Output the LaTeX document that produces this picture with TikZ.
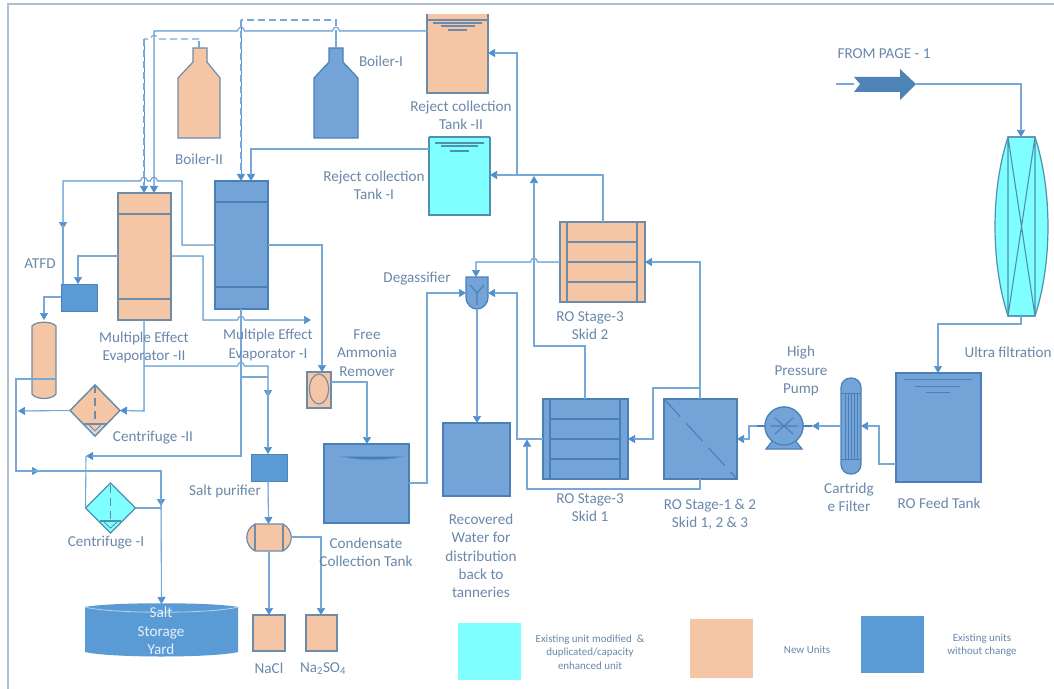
\documentclass[tikz,border=0pt]{standalone}
\usepackage{fontspec}
\setmainfont{Carlito}
\usetikzlibrary{arrows.meta,shapes.geometric}
\definecolor{linec}{HTML}{76A8D8}
\definecolor{tipc}{HTML}{4F8FCB}
\definecolor{peach}{HTML}{F4C6A5}
\definecolor{cyanu}{HTML}{7FFFFF}
\definecolor{blueu}{HTML}{74A3D8}
\definecolor{blued}{HTML}{5B9BD5}
\definecolor{edgeg}{HTML}{6E8CA8}
\definecolor{edgeb}{HTML}{4A80B8}
\definecolor{edgec}{HTML}{4F8FB0}
\definecolor{txtc}{HTML}{6A88AA}
\definecolor{framec}{HTML}{AEBED3}
\tikzset{
  flow/.style={draw=linec,line width=1.1bp},
  arr/.style={draw=tipc,line width=.5bp,-{Triangle[length=7bp,width=8bp]},
     postaction={draw=linec,line width=1.1bp,-,shorten >=6bp}},
  dasharr/.style={draw=tipc,line width=.5bp,-{Triangle[length=7bp,width=8bp]},
     postaction={draw=linec,line width=1.1bp,-,shorten >=6bp,dash pattern=on 7bp off 4bp}},
  dashflow/.style={flow,dash pattern=on 7bp off 4bp},
  pu/.style={draw=edgeg,fill=peach,line width=1.2bp},
  bu/.style={draw=edgeb,fill=blueu,line width=1.2bp},
  cu/.style={draw=edgec,fill=cyanu,line width=1.2bp},
  du/.style={draw=blued!85!black,fill=blued,line width=.8bp},
  pl/.style={draw=edgeg,line width=1.1bp},
  bl/.style={draw=edgeb,line width=1.1bp},
  cl/.style={draw=edgec,line width=1.1bp},
  lbl/.style={text=txtc,align=center,inner sep=0pt,font=\fontsize{15.2}{18.3}\selectfont},
  leg/.style={text=txtc,align=center,inner sep=0pt,font=\fontsize{11}{13.6}\selectfont},
  hidden/.style={draw=none,fill=none}
}
% \unit[style]{name}{x1}{y1}{x2}{y2}
\newcommand{\unit}[6][]{\node[#1,shape=rectangle,inner sep=0pt,outer sep=0pt,
  minimum width={(#5-#3)*1bp},minimum height={(#6-#4)*1bp}] (#2) at ({(#3+#5)/2},{(#4+#6)/2}) {};}
% hop going left / right on a horizontal line, over x=#1 at y=#2
\newcommand{\hopL}[2]{-- (#1+3.5,#2) .. controls (#1+3,#2-5) and (#1-3,#2-5) .. (#1-3.5,#2)}
\newcommand{\hopR}[2]{-- (#1-3.5,#2) .. controls (#1-3,#2-5) and (#1+3,#2-5) .. (#1+3.5,#2)}
\begin{document}
\begin{tikzpicture}[x=1bp,y=-1bp]
\useasboundingbox (0,0) rectangle (1054,689);
\fill[white] (0,0) rectangle (1054,689);
\draw[framec,line width=1.1bp] (8,689) -- (8,4) -- (1054,4);

% ---------- units
\unit[hidden]{boilerII}{178}{48}{220}{138}
\draw[pu] (193,48) -- (207,48) -- (207,62) -- (220,78) -- (220,138) -- (178,138) -- (178,78) -- (193,62) -- cycle;
\unit[hidden]{boilerI}{314}{48}{358}{138}
\draw[bu] (329,48) -- (343,48) -- (343,62) -- (358,78) -- (358,138) -- (314,138) -- (314,78) -- (329,62) -- cycle;

\unit[pu,draw=none]{tankII}{427}{14}{488}{93}
\draw[pl,line width=1.3bp] (427,14) -- (427,93) -- (488,93) -- (488,14);
\draw[pl] (427,20) -- (488,20) (433,23) -- (482,23) (441,26) -- (475,26) (448,30) -- (467,30);
\unit[cu,draw=none]{tankI}{429}{137}{490}{215}
\draw[cl,line width=1.3bp] (429,137) -- (429,215) -- (490,215) -- (490,137);
\draw[cl] (429,137) -- (490,137) (435,143) -- (484,143) (441,146) -- (478,146) (450,151) -- (469,151);

\unit[pu]{evapII}{118}{193}{171}{320}
\draw[pl,line width=1.4bp] (118,214) -- (171,214) (118,299) -- (171,299);
\unit[bu]{evapI}{215}{181}{268}{309}
\draw[bl,line width=1.1bp] (215,202) -- (268,202) (215,287) -- (268,287);

\unit[du]{atfd}{61}{284}{97}{311}
\unit[hidden]{dryer}{32}{320}{56}{399}
\draw[pu] (32,326) .. controls (36,321) and (52,321) .. (56,326) -- (56,394) .. controls (52,400) and (36,400) .. (32,394) -- cycle;

\node[pu,shape=diamond,aspect=1,inner sep=0pt,outer sep=0pt,minimum width=50bp,minimum height=51bp] (centII) at (95,410.5) {};
\fill[white!70!edgeg] (85,424) -- (105,424) -- (95,435) -- cycle;
\draw[pl] (84,424) -- (106,424);
\draw[pl,dash pattern=on 8bp off 5bp] (95,385) -- (95,421);
\fill[peach] (89,425) -- (101,425) -- (95,431) -- cycle;
\draw[pl,line width=.8bp] (89,425) -- (95,431) -- (101,425);
\draw[pu,fill=none] (95,385) -- (120,410.5) -- (95,436) -- (70,410.5) -- cycle;

\node[cu,shape=diamond,aspect=1,inner sep=0pt,outer sep=0pt,minimum width=50bp,minimum height=50bp] (centI) at (110.5,508) {};
\draw[cl,dash pattern=on 8bp off 5bp] (110.5,485) -- (110.5,521);
\draw[cl] (100,521) -- (121,521);
\draw[cl,line width=.8bp] (104,522) -- (110.5,528) -- (117,522);

\unit[hidden]{yard}{85}{604}{238}{655}
\fill[blued] (85,607) .. controls (110,602) and (213,602) .. (238,607) -- (238,652) .. controls (213,658) and (110,658) .. (85,652) -- cycle;
\draw[white!55!blued,line width=.8bp] (85,607) .. controls (110,614) and (213,614) .. (238,607);

\unit[du]{purifier}{251}{454}{287}{481}
\unit[hidden]{separator}{247}{524}{291}{551}
\draw[pu] (255,524) -- (283,524) .. controls (294,530) and (294,545) .. (283,551) -- (255,551) .. controls (244,545) and (244,530) .. (255,524) -- cycle;
\draw[pl,line width=1.3bp] (255,524) -- (255,551) (283,524) -- (283,551);

\unit[pu]{nacl}{253}{615}{285}{651}
\unit[pu]{naso}{306}{615}{337}{651}

\unit[pu]{ammonia}{307}{372}{331}{408}
\node[pl,shape=ellipse,inner sep=0pt,minimum width=19bp,minimum height=30bp] (ammoniaE) at (319,389) {};

\unit[bu]{condensate}{324}{444}{409}{523}
\draw[blued,fill=blued!80!black,line width=.6bp] (340,456) .. controls (360,461) and (385,461) .. (405,456) .. controls (385,457) and (360,457) .. (340,456);

\unit[bu]{recovered}{443}{423}{510}{496}

\unit[hidden]{degas}{466}{277}{488}{309}
\draw[bu] (degas.north west) -- (degas.north east) -- (488,297) .. controls (488,305) and (482,309) .. (477,309) .. controls (472,309) and (466,305) .. (466,297) -- cycle;
\draw[bl] (470,285) -- (477,293) -- (484,285) (477,293) -- (477,305);

\unit[pu]{roskidII}{560}{222}{645}{302}
\draw[pl] (567,222) -- (567,302) (637,222) -- (637,302) (567,242) -- (637,242) (567,262) -- (637,262) (567,282) -- (637,282);
\unit[bu]{roskidI}{543}{399}{628}{479}
\draw[bl,line width=1.3bp] (550,399) -- (550,479) (620,399) -- (620,479) (550,419) -- (620,419) (550,439) -- (620,439) (550,459) -- (620,459);
\unit[bu]{roone}{664}{399}{737}{479}
\draw[bl,dash pattern=on 24bp off 9bp] (roone.north west) -- (roone.south east);

\node[bu,shape=circle,inner sep=0pt,minimum size=38bp] (pump) at (784,426) {};
\draw[bu] (766,449) -- (802,449) -- (794,439) -- (774,439) -- cycle;
\node[bu,shape=circle,inner sep=0pt,minimum size=38bp] at (784,426) {};
\draw[bl] (770,426) -- (798,426) (775,418) -- (793,434) (775,434) -- (793,418);
\draw[bl] (757,426) -- (765,426) (803,426) -- (812,426);

\unit[hidden]{cartridge}{841}{378}{861}{474}
\draw[bu,rounded corners=9.5bp] (841,378) rectangle (861,474);
\draw[bl,line width=.8bp] (841,393) -- (861,393) (841,459) -- (861,459) (845,393) -- (845,459) (848.5,393) -- (848.5,459) (851,393) -- (851,459) (854,393) -- (854,459) (857,393) -- (857,459);

\unit[bu]{feed}{896}{373}{981}{482}
\draw[bl,line width=.7bp] (904,379) -- (972,379) (915,386) -- (960,386) (926,392) -- (950,392);

\unit[hidden]{uf}{995}{137}{1048}{316}
\draw[cu] (1008,137) .. controls (990.7,190) and (990.7,263) .. (1008,316) -- (1035,316) .. controls (1052.3,263) and (1052.3,190) .. (1035,137) -- cycle;
\draw[cl] (1008,137) -- (1035,137) -- (1035,316) -- (1008,316) -- cycle (1008,137) -- (1035,316) (1035,137) -- (1008,316);

\coordinate (pageIn) at (836,84);
\unit[hidden]{pagearrow}{854}{69}{916}{100}
\fill[blued!85!black] (854,77) -- (900,77) -- (900,69) -- (916,84) -- (900,100) -- (900,92) -- (854,92) -- (860,84) -- cycle;

% ---------- connectors
\draw[flow] (pageIn) -- (pagearrow.west |- pageIn);
\draw[arr] (pagearrow.east |- pageIn) -- (1021,84) -- (1021,137);
\draw[arr] (1021,316) -- (1021,324) -- (938,324) -- (938,373);
\draw[arr] (feed.west |- 0,464) -- (879,464) -- (879,426) -- (cartridge.east |- 0,426);
\draw[arr] (cartridge.west |- 0,426) -- (812,426);
\draw[arr] (757,426) -- (749,426) -- (749,439) -- (roone.east |- 0,439);

\draw[arr] (700,399) -- (700,262) -- (roskidII.east |- 0,262);
\draw[arr] (700,388) -- (653,388) -- (653,439) -- (roskidI.east |- 0,439);
\draw[arr] (700,479) -- (700,489) -- (527,489) -- (527,439.5);
\draw[arr] (roskidI.west |- 0,439) -- (517,439) -- (517,293) -- (degas.east |- 0,293);
\draw[arr] (585,399) -- (585,346) -- (534,346) -- (534,176);
\draw[arr] (roskidII.west |- 0,262) \hopL{534}{262} -- (476,262) -- (476,277);
\draw[arr] (603,222) -- (603,175) -- (tankI.east |- 0,175);
\draw[arr] (517,175) -- (517,53) -- (tankII.east |- 0,53);
\draw[arr] (condensate.east |- 0,483) -- (427,483) -- (427,293) -- (degas.west |- 0,293);
\draw[arr] (477,309) -- (477,423);

\draw[arr] (ammonia.east |- 0,382) -- (367,382) -- (367,444);
\draw[arr] (evapI.east |- 0,245) -- (322,245) -- (322,372);

\draw[arr] (tankII.west |- 0,31) \hopL{336}{31} \hopL{241}{31} -- (154,31) -- (154,193);
\draw[arr] (tankI.west |- 0,149) -- (251,149) -- (251,181);
\draw[dashflow] (199,48) -- (199,39);
\draw[dashflow] (199,39) \hopL{154}{39} -- (144,39);
\draw[dasharr] (144,39) -- (144,193);
\draw[flow] (336,48) -- (336,37);
\draw[dashflow] (336,37) -- (336,20) -- (241,20);
\draw[dasharr] (241,20) -- (241,181);

\draw[arr] (evapI.west |- 0,245) -- (182,245) -- (182,181) \hopL{154}{181} \hopL{144}{181} -- (63,181) -- (63,229);
\draw[flow] (63,225) -- (63,284);
\draw[arr] (evapII.west |- 0,256) -- (78,256) -- (78,284);
\draw[arr] (atfd.west |- 0,297) -- (44,297) -- (44,320);
\draw[arr] (evapII.east |- 0,256) -- (203,256) -- (203,320) \hopR{241}{320} -- (311,320);

\draw[flow] (241,309) -- (241,377);
\draw[arr] (144,320) -- (144,411) -- (centII.east);
\draw[arr] (144,366) \hopR{241}{366} -- (268,366) -- (268,397);
\draw[flow] (241,377) -- (268,377);
\draw[arr] (268,390) -- (268,454);
\draw[arr] (241,377) -- (241,456) -- (86,456);
\draw[flow] (86,456) -- (centI.west);
\draw[arr] (centII.west) -- (18,411);
\draw[flow] (dryer.east |- 0,379) -- (16,379) -- (16,471) -- (30,471);
\draw[arr] (30,471) -- (39,471);
\draw[flow] (30,471) -- (161,471) -- (161,500);
\draw[arr] (161,471) -- (161,506);
\draw[arr] (161,500) -- (yard.north);
\draw[flow] (centI.east) -- (161,508);
\draw[arr] (268,481) -- (268.5,524);
\draw[arr] (269,551) -- (269,615);
\draw[arr] (separator.east |- 0,537) -- (321,537) -- (321,615);

% ---------- labels
\node[lbl] (tBoilerII) at (199,159) {Boiler-II};
\node[lbl] (tBoilerI) at (381,61) {Boiler-I};
\node[lbl] (tTankII) at (461,115.5) {Reject collection\\Tank -II};
\node[lbl] (tTankI) at (374,185.5) {Reject collection\\Tank -I};
\node[lbl] (tATFD) at (40,264) {ATFD};
\node[lbl] (tEvapII) at (144,347.5) {Multiple Effect\\Evaporator -II};
\node[lbl] (tEvapI) at (268,345) {Multiple Effect\\Evaporator -I};
\node[lbl] (tAmmonia) at (367,353) {Free\\Ammonia\\Remover};
\node[lbl] (tDegas) at (417,279) {Degassifier};
\node[lbl] (tSkidII) at (590,325.5) {RO Stage-3\\Skid 2};
\node[lbl] (tPump) at (801,371) {High\\Pressure\\Pump};
\node[lbl] (tUF) at (1008,352) {Ultra filtration};
\node[lbl] (tCart) at (849,497) {Cartridg\\e Filter};
\node[lbl] (tFeed) at (939,503) {RO Feed Tank};
\node[lbl] (tRoOne) at (710,514) {RO Stage-1 \& 2\\Skid 1, 2 \& 3};
\node[lbl] (tSkidI) at (590,508) {RO Stage-3\\Skid 1};
\node[lbl] (tRec) at (481,556) {Recovered\\Water for\\distribution\\back to\\tanneries};
\node[lbl] (tPur) at (225,491) {Salt purifier};
\node[lbl] (tCentII) at (153,438) {Centrifuge -II};
\node[lbl] (tCentI) at (106,543) {Centrifuge -I};
\node[lbl] (tCond) at (366,552) {Condensate\\Collection Tank};
\node[lbl,text=white!85!blued] (tYard) at (161,631) {Salt\\Storage\\Yard};
\node[lbl] (tNaCl) at (269,668) {NaCl};
\node[lbl] (tNaSO) at (323,669) {Na\textsubscript{2}SO\textsubscript{4}};
\node[lbl] (tPage) at (884,54) {FROM PAGE - 1};

% ---------- legend
\unit[draw=none,fill=cyanu]{legC}{458}{623}{521}{680}
\unit[draw=none,fill=peach]{legP}{690}{619}{753}{678}
\unit[draw=none,fill=blued]{legB}{861}{616}{924}{673}
\node[leg] (tLegC) at (590,652) {Existing unit modified \ \&\\duplicated/capacity\\enhanced unit};
\node[leg] (tLegP) at (807,650) {New Units};
\node[leg] (tLegB) at (982,645) {Existing units\\without change};
\end{tikzpicture}
\end{document}
